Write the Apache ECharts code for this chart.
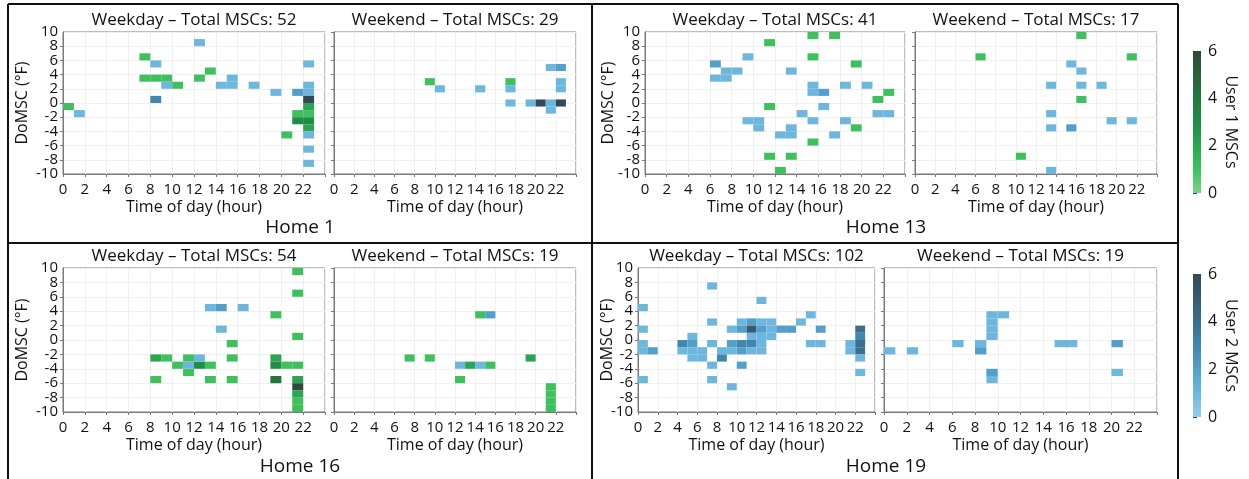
<!DOCTYPE html>
<html>
<head>
<meta charset="utf-8">
<script src="https://cdn.jsdelivr.net/npm/echarts@6/dist/echarts.min.js"></script>
<style>
  html, body { margin: 0; padding: 0; background: #ffffff; }
  #chart { width: 1249px; height: 479px; }
</style>
</head>
<body>
<div id="chart"></div>
<script>
// Each cell: [hour of day, lower edge of the DoMSC bin (°F), number of MSCs]

// Home 1
const home1WeekdayUser1 = [
  [0, -1, 1], [7, 6, 1], [7, 3, 1], [8, 3, 1], [9, 3, 1], [10, 2, 1], [12, 3, 1], [13, 4, 1],
  [20, -5, 1], [21, -2, 1], [21, -3, 3], [22, -1, 2], [22, -2, 1], [22, -3, 3], [22, -4, 2]
];
const home1WeekdayUser2 = [
  [1, -2, 1], [8, 5, 1], [9, 2, 1], [8, 0, 3], [12, 8, 1], [14, 2, 1], [15, 2, 1], [15, 3, 1],
  [17, 2, 1], [19, 1, 1], [21, 1, 2], [22, 5, 1], [22, 2, 1], [22, 1, 1], [22, 0, 6],
  [22, -5, 1], [22, -7, 1], [22, -9, 1]
];
// weekend bins of this home sit centred on whole degrees
const home1WeekendUser1 = [
  [9, 2.5, 1], [17, 2.5, 1]
];
const home1WeekendUser2 = [
  [10, 1.5, 1], [14, 1.5, 1], [17, 1.5, 1], [17, -0.5, 1], [19, -0.5, 1], [20, -0.5, 6],
  [21, -0.5, 1], [21, -1.5, 1], [22, -0.5, 6], [22, 2.5, 1], [22, 1.5, 1], [21, 4.5, 1], [22, 4.5, 2]
];

// Home 13
const home13WeekdayUser1 = [
  [15, 9, 1], [17, 9, 1], [11, 8, 1], [15, 6, 1], [19, 5, 1], [22, 1, 1], [21, 0, 1],
  [11, -1, 1], [19, -4, 1], [15, -6, 1], [11, -8, 1], [13, -8, 1], [12, -10, 1]
];
const home13WeekdayUser2 = [
  [9, 6, 1], [6, 5, 2], [7, 4, 1], [8, 4, 1], [6, 3, 1], [7, 3, 1], [13, 4, 1], [15, 2, 1],
  [15, 1, 1], [16, 1, 2], [18, 2, 1], [20, 2, 1], [16, -1, 1], [14, -2, 1], [21, -2, 1],
  [22, -2, 1], [9, -3, 1], [10, -3, 1], [10, -4, 1], [15, -3, 1], [18, -3, 1], [13, -4, 1],
  [13, -5, 1], [12, -5, 1], [17, -5, 1]
];
const home13WeekendUser1 = [
  [16, 9, 1], [6, 6, 1], [21, 6, 1], [16, 0, 1], [10, -8, 1]
];
const home13WeekendUser2 = [
  [15, 5, 1], [16, 4, 1], [13, 2, 1], [16, 2, 1], [18, 2, 1], [13, -2, 1], [19, -3, 1],
  [21, -3, 1], [13, -4, 1], [15, -4, 2], [13, -10, 1]
];

// Home 16
const home16WeekdayUser1 = [
  [21, 9, 1], [21, 6, 1], [19, 3, 1], [21, 0, 1], [15, -1, 1], [8, -3, 2], [9, -3, 1],
  [11, -3, 1], [15, -3, 1], [19, -3, 2], [10, -4, 1], [12, -4, 3], [13, -4, 1], [19, -4, 3],
  [20, -4, 1], [21, -4, 1], [11, -5, 1], [8, -6, 1], [13, -6, 1], [15, -6, 1], [19, -6, 4],
  [21, -6, 2], [21, -7, 6], [21, -8, 2], [21, -9, 1], [21, -10, 1]
];
const home16WeekdayUser2 = [
  [13, 4, 1], [14, 4, 2], [16, 4, 1], [14, 1, 1], [12, -3, 1], [11, -4, 1]
];
const home16WeekendUser1 = [
  [14, 3, 1], [7, -3, 1], [9, -3, 1], [19, -3, 2], [13, -4, 2], [15, -4, 1], [12, -6, 1],
  [21, -7, 1], [21, -8, 1], [21, -9, 1], [21, -10, 1]
];
const home16WeekendUser2 = [
  [15, 3, 2], [12, -4, 1], [14, -4, 1]
];

// Home 19
const home19WeekdayUser1 = [];
const home19WeekdayUser2 = [
  [0, 4, 1], [0, 1, 1], [0, -1, 1], [0, -2, 1], [0, -6, 1], [1, -2, 2],
  [4, -1, 3], [4, -2, 1], [5, 0, 1], [5, -1, 2], [5, -2, 1], [5, -3, 1], [6, -2, 1], [6, -3, 1],
  [7, 7, 1], [7, 2, 1], [7, -1, 1], [7, -4, 1], [7, -6, 1], [8, -2, 1], [8, -3, 3],
  [9, 1, 1], [9, -1, 2], [9, -2, 1], [9, -7, 1],
  [10, 2, 1], [10, 1, 2], [10, -1, 3], [10, -2, 2], [10, -4, 2],
  [11, 2, 2], [11, 1, 5], [11, 0, 1], [11, -1, 3], [11, -2, 1],
  [12, 5, 1], [12, 2, 1], [12, 1, 2], [12, 0, 1], [12, -1, 1], [12, -2, 1],
  [13, 2, 1], [13, 1, 1], [13, 0, 1], [14, 1, 2], [15, 1, 2], [16, 2, 1], [17, 3, 1],
  [17, -1, 1], [18, 1, 2], [18, -1, 1], [21, -1, 1], [21, -2, 1],
  [22, 1, 4], [22, 0, 3], [22, -1, 4], [22, -2, 4], [22, -3, 1], [22, -5, 1]
];
const home19WeekendUser1 = [];
const home19WeekendUser2 = [
  [0, -2, 1], [2, -2, 1], [6, -1, 1], [8, -1, 1], [8, -2, 2], [9, 3, 1], [9, 2, 1], [9, 1, 1],
  [9, 0, 1], [10, 3, 1], [9, -5, 2], [9, -6, 1], [15, -1, 1], [16, -1, 1], [20, -1, 2], [20, -5, 1]
];

const panelTitles = [
  'Weekday – Total MSCs: 52', 'Weekend – Total MSCs: 29',
  'Weekday – Total MSCs: 41', 'Weekend – Total MSCs: 17',
  'Weekday – Total MSCs: 54', 'Weekend – Total MSCs: 19',
  'Weekday – Total MSCs: 102', 'Weekend – Total MSCs: 19'
];
const homeNames = ['Home 1', 'Home 13', 'Home 16', 'Home 19'];
const colorbarNames = ['User 1 MSCs', 'User 2 MSCs'];
const countRange = [0, 6];
const tempRange = [-10, 10];

const panelCells = [
  [home1WeekdayUser1, home1WeekdayUser2], [home1WeekendUser1, home1WeekendUser2],
  [home13WeekdayUser1, home13WeekdayUser2], [home13WeekendUser1, home13WeekendUser2],
  [home16WeekdayUser1, home16WeekdayUser2], [home16WeekendUser1, home16WeekendUser2],
  [home19WeekdayUser1, home19WeekdayUser2], [home19WeekendUser1, home19WeekendUser2]
];

// ---- styling and layout ----
const FONT = '"Open Sans"';
const greenScale = ['#7ad487', '#3ec15d', '#2aa650', '#1f8d45', '#22773f', '#29603b', '#2f4a38'];
const blueScale  = ['#95cdec', '#6db7df', '#539fcb', '#4087b0', '#3a6f8f', '#375b72', '#344858'];

const panelBoxes = [
  { left: 63,  top: 32,  width: 262, height: 142, showY: true, yNameGap: 33 },
  { left: 334, top: 32,  width: 242, height: 142, showY: false },
  { left: 645, top: 32,  width: 260, height: 142, showY: true, yNameGap: 29 },
  { left: 915, top: 32,  width: 242, height: 142, showY: false },
  { left: 63,  top: 268, width: 262, height: 144, showY: true, yNameGap: 33 },
  { left: 334, top: 268, width: 242, height: 144, showY: false },
  { left: 638, top: 268, width: 237, height: 144, showY: true, yNameGap: 23 },
  { left: 884, top: 268, width: 273, height: 144, showY: false }
];
const colorbarBoxes = [
  { left: 1193, top: 51,  width: 8, height: 142 },
  { left: 1193, top: 274, width: 8, height: 143 }
];

const axisGray = '#7a7a7a';
const labelStyle = { color: '#111', fontFamily: FONT, fontSize: 15, margin: 5 };

function renderCell(params, api) {
  const h = api.value(0), b = api.value(1);
  const p0 = api.coord([h, b + 1]);
  const p1 = api.coord([h + 1, b]);
  return {
    type: 'rect',
    shape: { x: p0[0], y: p0[1], width: p1[0] - p0[0], height: p1[1] - p0[1] },
    style: { fill: api.visual('color') }
  };
}

const grids = [], xAxes = [], yAxes = [], series = [];
const endLabelAxes = [];

panelBoxes.forEach((box, i) => {
  grids.push({
    left: box.left, top: box.top, width: box.width, height: box.height,
    show: true, borderColor: axisGray, borderWidth: 1, backgroundColor: '#ffffff',
    containLabel: false, outerBoundsMode: 'none'
  });
  xAxes.push({
    gridIndex: i, type: 'value', min: 0, max: 24, interval: 2,
    axisLine: { show: true, onZero: false, lineStyle: { color: axisGray } },
    axisTick: { show: true, length: 3, lineStyle: { color: axisGray } },
    axisLabel: Object.assign({}, labelStyle, {
      margin: 8, formatter: v => (v >= 24 ? '' : String(v))
    }),
    splitLine: { show: true, lineStyle: { color: '#f0f0f0', width: 1 } },
    name: 'Time of day (hour)', nameLocation: 'middle', nameGap: 25,
    nameTextStyle: { color: '#111', fontFamily: FONT, fontSize: 16 }
  });
  // main temperature axis: inner tick labels (-8 … 8)
  yAxes.push({
    gridIndex: i, type: 'value', min: tempRange[0], max: tempRange[1], interval: 2,
    position: 'left',
    axisLine: { show: true, onZero: false, lineStyle: { color: axisGray } },
    axisTick: { show: true, length: 3, lineStyle: { color: axisGray } },
    axisLabel: Object.assign({}, labelStyle, {
      show: box.showY, showMinLabel: false, showMaxLabel: false
    }),
    splitLine: { show: true, lineStyle: { color: '#f0f0f0', width: 1 } },
    name: box.showY ? 'DoMSC (°F)' : '', nameLocation: 'middle',
    nameGap: box.yNameGap || 31, nameRotate: 90,
    nameTextStyle: { color: '#111', fontFamily: FONT, fontSize: 16 }
  });
  if (box.showY) endLabelAxes.push(i);
  const [u1, u2] = panelCells[i];
  series.push({
    type: 'custom', name: 'User 1', xAxisIndex: i, yAxisIndex: i,
    data: u1, renderItem: renderCell, encode: { x: 0, y: 1 }
  });
  series.push({
    type: 'custom', name: 'User 2', xAxisIndex: i, yAxisIndex: i,
    data: u2, renderItem: renderCell, encode: { x: 0, y: 1 }
  });
});

// colour bars
const scales = [greenScale, blueScale];
colorbarBoxes.forEach((box, k) => {
  const gi = panelBoxes.length + k;
  grids.push({ left: box.left, top: box.top, width: box.width, height: box.height,
               show: false, containLabel: false, outerBoundsMode: 'none' });
  xAxes.push({ gridIndex: gi, type: 'value', min: 0, max: 1, show: false });
  yAxes.push({
    gridIndex: gi, type: 'value', min: countRange[0], max: countRange[1], interval: 2,
    position: 'right',
    axisLine: { show: false },
    axisTick: { show: true, length: 4, lineStyle: { color: '#444' } },
    axisLabel: { showMinLabel: true, showMaxLabel: true,
                 color: '#111', fontFamily: FONT, fontSize: 16, margin: 7 },
    splitLine: { show: false },
    name: colorbarNames[k], nameLocation: 'middle', nameGap: 22, nameRotate: -90,
    nameTextStyle: { color: '#111', fontFamily: FONT, fontSize: 16 }
  });
  const stops = scales[k].map((c, j) => ({ offset: j / (scales[k].length - 1), color: c }));
  series.push({
    type: 'custom', xAxisIndex: gi, yAxisIndex: gi, silent: true,
    data: [[0, countRange[0], countRange[1]]],
    renderItem: (params, api) => {
      const p0 = api.coord([0, api.value(2)]);
      const p1 = api.coord([1, api.value(1)]);
      return {
        type: 'rect',
        shape: { x: p0[0], y: p0[1], width: p1[0] - p0[0], height: p1[1] - p0[1] },
        style: { fill: { type: 'linear', x: 0, y: 1, x2: 0, y2: 0, colorStops: stops } }
      };
    }
  });
});

// companion axes carrying only the -10 / 10 end labels on the weekday panels
endLabelAxes.forEach(gi => {
  yAxes.push({
    gridIndex: gi, type: 'value', min: tempRange[0], max: tempRange[1], interval: 2,
    position: 'left',
    axisLine: { show: false }, axisTick: { show: false }, splitLine: { show: false },
    axisLabel: Object.assign({}, labelStyle, {
      showMinLabel: true, showMaxLabel: true,
      formatter: v => (v === tempRange[0] || v === tempRange[1] ? String(v) : '')
    })
  });
});

const user1Series = [], user2Series = [];
panelBoxes.forEach((b, i) => { user1Series.push(2 * i); user2Series.push(2 * i + 1); });

// text and frame lines
const graphics = [];
panelBoxes.forEach((box, i) => {
  graphics.push({
    type: 'text', x: box.left + box.width / 2, y: box.top - 12,
    style: { text: panelTitles[i], font: '17px ' + FONT, fill: '#111',
             textAlign: 'center', textVerticalAlign: 'middle' }
  });
});
const homeCenters = [[300, 228], [886, 228], [300, 467], [886, 467]];
homeNames.forEach((n, i) => {
  graphics.push({
    type: 'text', x: homeCenters[i][0], y: homeCenters[i][1],
    style: { text: n, font: '19px ' + FONT, fill: '#111',
             textAlign: 'center', textVerticalAlign: 'middle' }
  });
});
const frameLines = [
  [8, 4, 1178, 4], [8, 243, 1178, 243], [8, 4, 8, 479], [592, 4, 592, 479], [1178, 4, 1178, 479]
];
frameLines.forEach(l => {
  graphics.push({
    type: 'line', shape: { x1: l[0], y1: l[1], x2: l[2], y2: l[3] },
    style: { stroke: '#111', lineWidth: 2 }
  });
});

const chart = echarts.init(document.getElementById('chart'), null, { renderer: 'canvas' });
chart.setOption({
  animation: false,
  backgroundColor: '#ffffff',
  textStyle: { fontFamily: FONT },
  grid: grids,
  xAxis: xAxes,
  yAxis: yAxes,
  visualMap: [
    { type: 'continuous', show: false, dimension: 2, min: countRange[0], max: countRange[1],
      seriesIndex: user1Series, inRange: { color: greenScale } },
    { type: 'continuous', show: false, dimension: 2, min: countRange[0], max: countRange[1],
      seriesIndex: user2Series, inRange: { color: blueScale } }
  ],
  series: series,
  graphic: graphics
});
</script>
</body>
</html>
